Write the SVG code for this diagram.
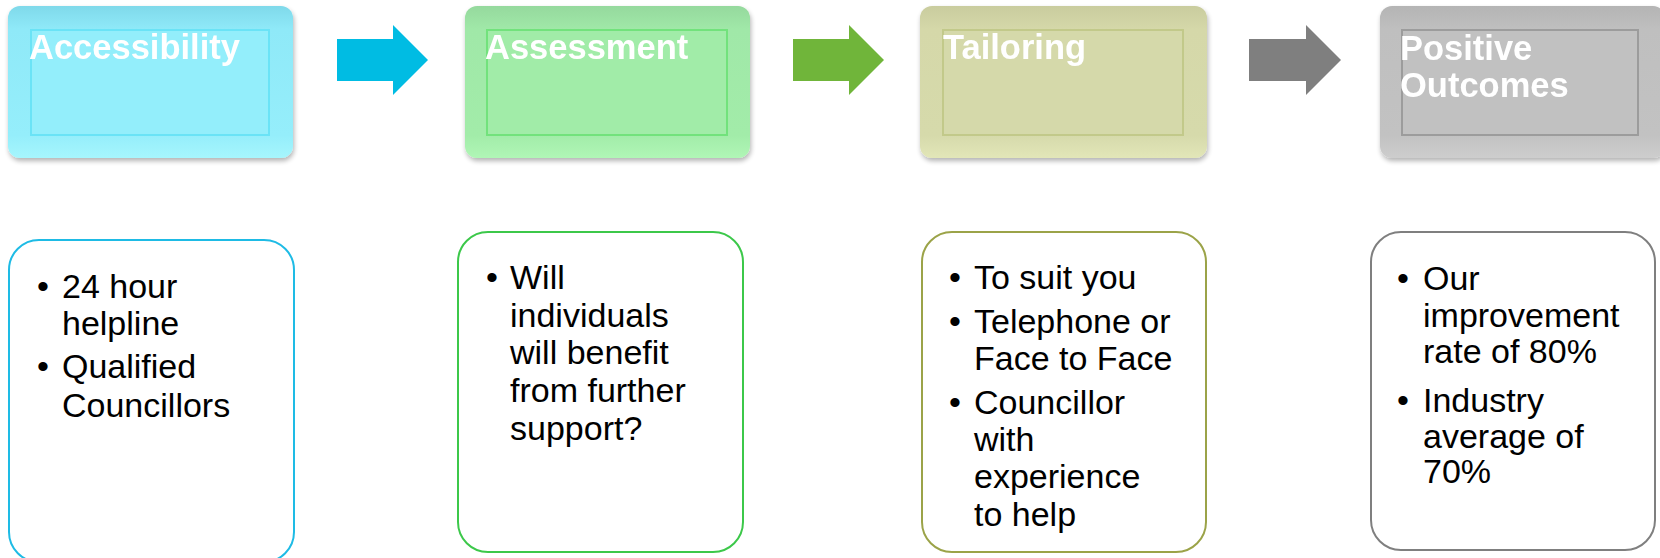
<svg xmlns="http://www.w3.org/2000/svg" width="1660" height="558" viewBox="0 0 1660 558">
<style>
.title{font-family:"Liberation Sans",Arial,sans-serif;font-weight:bold;font-size:34.5px;fill:#ffffff}
.body{font-family:"Liberation Sans",Arial,sans-serif;font-size:34px;fill:#000000}
.card{fill:#ffffff;stroke-width:2}
.inner{stroke-width:2}
</style>
<defs>
<filter id="sh" x="-10%" y="-10%" width="120%" height="130%">
<feGaussianBlur in="SourceAlpha" stdDeviation="2.5"/>
<feOffset dx="1" dy="3" result="b"/>
<feComponentTransfer><feFuncA type="linear" slope="0.3"/></feComponentTransfer>
<feMerge><feMergeNode/><feMergeNode in="SourceGraphic"/></feMerge>
</filter>
<linearGradient id="g1" x1="0" y1="0" x2="0" y2="1"><stop offset="0" stop-color="#7fd9ea"/><stop offset="0.15" stop-color="#8fe9f8"/><stop offset="0.85" stop-color="#95eefb"/><stop offset="1" stop-color="#a6f6fd"/></linearGradient>
<linearGradient id="g2" x1="0" y1="0" x2="0" y2="1"><stop offset="0" stop-color="#95d99d"/><stop offset="0.15" stop-color="#a0e8a8"/><stop offset="0.85" stop-color="#a2eca9"/><stop offset="1" stop-color="#b0f6b6"/></linearGradient>
<linearGradient id="g3" x1="0" y1="0" x2="0" y2="1"><stop offset="0" stop-color="#c9cc9e"/><stop offset="0.15" stop-color="#d5d8a9"/><stop offset="0.85" stop-color="#d6daab"/><stop offset="1" stop-color="#e2e6b8"/></linearGradient>
<linearGradient id="g4" x1="0" y1="0" x2="0" y2="1"><stop offset="0" stop-color="#b4b4b4"/><stop offset="0.15" stop-color="#bfbfbf"/><stop offset="0.85" stop-color="#c2c2c2"/><stop offset="1" stop-color="#cdcdcd"/></linearGradient>
</defs>

<g id="head-accessibility" filter="url(#sh)">
<rect x="8" y="6" width="285" height="152" rx="12" fill="url(#g1)"/>
<rect class="inner" x="31" y="30" width="238" height="105" fill="#93eefb" stroke="#6ae3f6"/>
<text class="title" x="29" y="59">Accessibility</text>
</g>
<g id="head-assessment" filter="url(#sh)">
<rect x="465" y="6" width="285" height="152" rx="12" fill="url(#g2)"/>
<rect class="inner" x="487" y="30" width="240" height="105" fill="#a1eca8" stroke="#72e27c"/>
<text class="title" x="485" y="59">Assessment</text>
</g>
<g id="head-tailoring" filter="url(#sh)">
<rect x="920" y="6" width="287" height="152" rx="12" fill="url(#g3)"/>
<rect class="inner" x="943" y="30" width="240" height="105" fill="#d5d9aa" stroke="#c2c98a"/>
<text class="title" x="943" y="59">Tailoring</text>
</g>
<g id="head-outcomes" filter="url(#sh)">
<rect x="1380" y="6" width="285" height="152" rx="12" fill="url(#g4)"/>
<rect class="inner" x="1402" y="30" width="236" height="105" fill="#c1c1c1" stroke="#9c9c9c"/>
<text class="title" x="1400" y="60">Positive</text>
<text class="title" x="1400" y="97">Outcomes</text>
</g>

<g id="connectors">
<polygon points="337,39 393,39 393,25 428,60 393,95 393,81 337,81" fill="#00bce3"/>
<polygon points="793,39 849,39 849,25 884,60 849,95 849,81 793,81" fill="#70b53a"/>
<polygon points="1249,39 1306,39 1306,25 1341,60 1306,95 1306,81 1249,81" fill="#7f7f7f"/>
</g>

<g id="card-accessibility">
<rect class="card" x="9" y="240" width="285" height="322" rx="30" stroke="#1ebbe5"/>
<text class="body" x="37" y="298">•</text><text class="body" x="62" y="298">24 hour</text>
<text class="body" x="62" y="335">helpline</text>
<text class="body" x="37" y="378">•</text><text class="body" x="62" y="378">Qualified</text>
<text class="body" x="62" y="417">Councillors</text>
</g>
<g id="card-assessment">
<rect class="card" x="458" y="232" width="285" height="320" rx="30" stroke="#3cc84a"/>
<text class="body" x="486" y="289">•</text><text class="body" x="510" y="289">Will</text>
<text class="body" x="510" y="327">individuals</text>
<text class="body" x="510" y="364">will benefit</text>
<text class="body" x="510" y="402">from further</text>
<text class="body" x="510" y="440">support?</text>
</g>
<g id="card-tailoring">
<rect class="card" x="922" y="232" width="284" height="320" rx="30" stroke="#9ba348"/>
<text class="body" x="949" y="289">•</text><text class="body" x="974" y="289">To suit you</text>
<text class="body" x="949" y="333">•</text><text class="body" x="974" y="333">Telephone or</text>
<text class="body" x="974" y="370">Face to Face</text>
<text class="body" x="949" y="414">•</text><text class="body" x="974" y="414">Councillor</text>
<text class="body" x="974" y="451">with</text>
<text class="body" x="974" y="488">experience</text>
<text class="body" x="974" y="526">to help</text>
</g>
<g id="card-outcomes">
<rect class="card" x="1371" y="232" width="284" height="318" rx="30" stroke="#7f7f7f"/>
<text class="body" x="1397" y="290">•</text><text class="body" x="1423" y="290">Our</text>
<text class="body" x="1423" y="327">improvement</text>
<text class="body" x="1423" y="363">rate of 80%</text>
<text class="body" x="1397" y="412">•</text><text class="body" x="1423" y="412">Industry</text>
<text class="body" x="1423" y="448">average of</text>
<text class="body" x="1423" y="483">70%</text>
</g>
</svg>
